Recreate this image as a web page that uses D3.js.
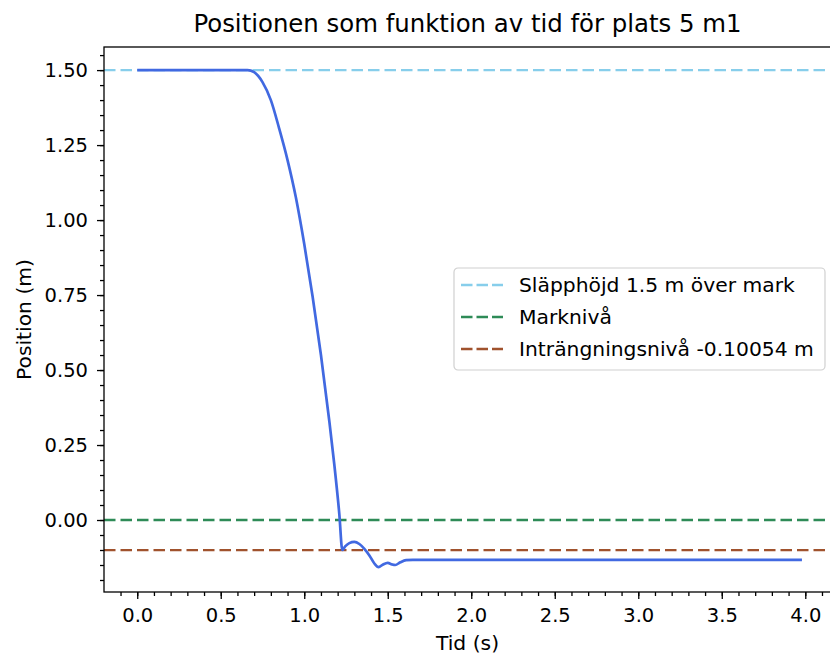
<!DOCTYPE html>
<html>
  <head>
    <meta charset="UTF-8" />
    <script src="https://cdnjs.cloudflare.com/ajax/libs/d3/7.8.5/d3.min.js"></script>
    <style>
      body { margin: 0; background: #fff; }
      text { font-family: "DejaVu Sans", sans-serif; fill: #000; }
      .tick text { font-size: 19.5px; }
      .domain { stroke: none; }
      .tick line { stroke: #000; stroke-width: 1.3; }
    </style>
  </head>
  <body>
    <svg id="viz" width="830" height="658"></svg>
    <script>
      // position curve: [time (s), position (m)]
      const positionData = [
        [0.0, 1.5], [0.3, 1.5], [0.6, 1.5], [0.66, 1.5], [0.7, 1.493],
        [0.75, 1.46], [0.8, 1.40], [0.85, 1.305], [0.9, 1.2], [0.95, 1.075],
        [1.0, 0.92], [1.05, 0.745], [1.1, 0.55], [1.15, 0.33], [1.18, 0.185],
        [1.21, 0.02], [1.228, -0.1], [1.245, -0.088], [1.27, -0.077],
        [1.3, -0.073], [1.33, -0.08], [1.36, -0.096], [1.39, -0.118],
        [1.42, -0.145], [1.445, -0.157], [1.47, -0.149], [1.5, -0.143],
        [1.525, -0.148], [1.545, -0.150], [1.575, -0.141], [1.61, -0.134],
        [1.65, -0.133], [2.0, -0.133], [2.5, -0.133], [3.0, -0.133],
        [3.5, -0.133], [3.98, -0.133]
      ];

      // horizontal reference levels
      const levels = [1.5, 0, -0.10054];
      const levelNames = [
        "Släpphöjd 1.5 m över mark",
        "Marknivå",
        "Inträngningsnivå -0.10054 m"
      ];
      const levelColors = ["#87ceeb", "#2e8b57", "#a0522d"];

      const xTicks = [0, 0.5, 1, 1.5, 2, 2.5, 3, 3.5, 4];
      const yTicks = [0, 0.25, 0.5, 0.75, 1, 1.25, 1.5];

      const svg = d3.select("#viz");
      const plotLeft = 104, plotRight = 831, plotTop = 47, plotBottom = 592;

      const x = d3.scaleLinear().domain([-0.199, 4.154]).range([plotLeft, plotRight]);
      const y = d3.scaleLinear().domain([-0.24, 1.577]).range([plotBottom, plotTop]);

      const xMinor = d3.range(-1, 42).map(i => i / 10).filter(v => x(v) >= plotLeft && x(v) <= plotRight);
      const yMinor = d3.range(-4, 32).map(i => i / 20).filter(v => y(v) <= plotBottom && y(v) >= plotTop);

      // minor ticks
      svg.append("g")
        .attr("transform", `translate(0,${plotBottom})`)
        .call(d3.axisBottom(x).tickValues(xMinor).tickSize(4).tickFormat(""));
      svg.append("g")
        .attr("transform", `translate(${plotLeft},0)`)
        .call(d3.axisLeft(y).tickValues(yMinor).tickSize(4).tickFormat(""));

      // major ticks
      svg.append("g")
        .attr("transform", `translate(0,${plotBottom})`)
        .call(d3.axisBottom(x).tickValues(xTicks).tickSize(7).tickPadding(9).tickFormat(d3.format(".1f")));
      svg.append("g")
        .attr("transform", `translate(${plotLeft},0)`)
        .call(d3.axisLeft(y).tickValues(yTicks).tickSize(7).tickPadding(9).tickFormat(d3.format(".2f")));

      // reference lines
      svg.selectAll("line.level")
        .data(levels)
        .enter()
        .append("line")
        .attr("class", "level")
        .attr("x1", plotLeft)
        .attr("x2", plotRight)
        .attr("y1", d => y(d))
        .attr("y2", d => y(d))
        .attr("stroke", (d, i) => levelColors[i])
        .attr("stroke-width", 2.3)
        .attr("stroke-dasharray", "11.5,5");

      // position curve
      svg.append("path")
        .datum(positionData)
        .attr("fill", "none")
        .attr("stroke", "#4169e1")
        .attr("stroke-width", 2.7)
        .attr("stroke-linejoin", "round")
        .attr("d", d3.line().x(d => x(d[0])).y(d => y(d[1])).curve(d3.curveMonotoneX));

      // frame
      svg.append("rect")
        .attr("x", plotLeft)
        .attr("y", plotTop)
        .attr("width", plotRight - plotLeft)
        .attr("height", plotBottom - plotTop)
        .attr("fill", "none")
        .attr("stroke", "#000")
        .attr("stroke-width", 1.3);

      // legend
      const legend = svg.append("g").attr("transform", "translate(454,268)");
      legend.append("rect")
        .attr("width", 371)
        .attr("height", 102)
        .attr("rx", 4)
        .attr("fill", "#fff")
        .attr("fill-opacity", 0.8)
        .attr("stroke", "#d0d0d0")
        .attr("stroke-width", 1.2);
      const rows = legend.selectAll("g.row")
        .data(levelNames)
        .enter()
        .append("g")
        .attr("class", "row")
        .attr("transform", (d, i) => `translate(0,${17 + i * 32})`);
      rows.append("line")
        .attr("x1", 7)
        .attr("x2", 49)
        .attr("stroke", (d, i) => levelColors[i])
        .attr("stroke-width", 2.3)
        .attr("stroke-dasharray", "11.5,4");
      rows.append("text")
        .attr("x", 65)
        .attr("dy", "0.35em")
        .style("font-size", "20.3px")
        .text(d => d);

      // titles
      svg.append("text")
        .attr("x", (plotLeft + plotRight) / 2)
        .attr("y", 32)
        .attr("text-anchor", "middle")
        .style("font-size", "24.4px")
        .text("Positionen som funktion av tid för plats 5 m1");
      svg.append("text")
        .attr("x", (plotLeft + plotRight) / 2)
        .attr("y", 650)
        .attr("text-anchor", "middle")
        .style("font-size", "20.3px")
        .text("Tid (s)");
      svg.append("text")
        .attr("transform", `translate(31,${(plotTop + plotBottom) / 2}) rotate(-90)`)
        .attr("text-anchor", "middle")
        .style("font-size", "20.3px")
        .text("Position (m)");
    </script>
  </body>
</html>
